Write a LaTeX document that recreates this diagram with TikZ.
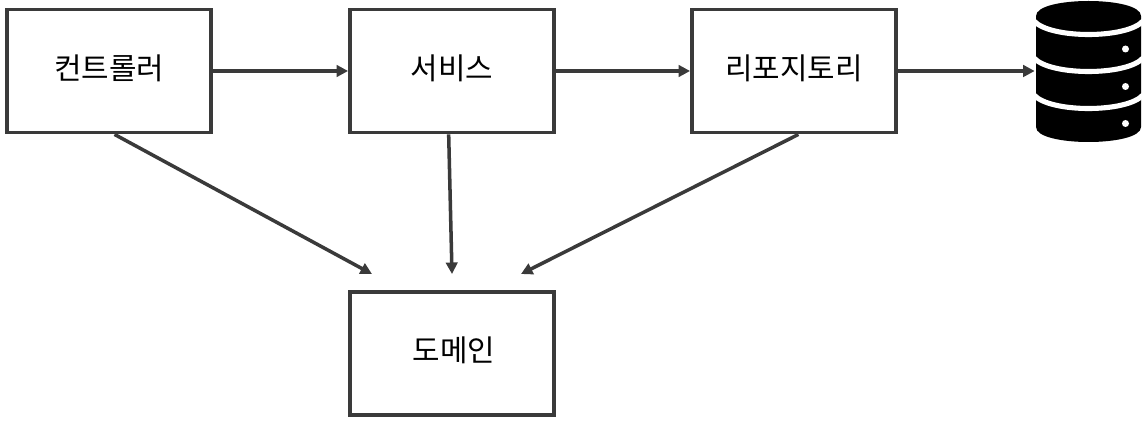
\documentclass[tikz,border=0pt]{standalone}
\usepackage{fontspec}
\setmainfont{Noto Sans CJK KR}
\usetikzlibrary{arrows.meta,positioning}
\definecolor{cA}{HTML}{3a3a3a}
\tikzset{
  layer/.style={rectangle,draw=cA,line width=2.2pt,fill=white,minimum width=4.08cm,
                minimum height=2.46cm,inner sep=0pt,text height=14pt,text depth=4.5pt,
                font=\fontsize{17}{20}\selectfont},
  flow/.style={-{Triangle[length=2.3mm,width=2.3mm]},line width=2pt,cA},
  dbband/.style={white,line width=2.9pt},
  dbdot/.style={circle,fill=white,inner sep=0pt,minimum size=.14cm},
}
\begin{document}
\begin{tikzpicture}[x=.02cm,y=-.02cm]
  \useasboundingbox (0,0) rectangle (1146,422);
  \node[layer](ctrl) at (109,71){컨트롤러};
  \node[layer](svc) at (452,71){서비스};
  \node[layer](repo) at (794,71){리포지토리};
  \node[layer](domain) at (452,353.5){\hspace{.08cm}도메인};
  \node[inner sep=0pt,minimum width=2.14cm,minimum height=2.82cm](db) at (1088.5,71){};
  % database icon
  \fill[black] (1036,16) .. controls (1036,-4) and (1141,-4) .. (1141,16)
    -- (1141,127) .. controls (1141,147) and (1036,147) .. (1036,127) -- cycle;
  \foreach \y in {21,58,95}{
    \draw[dbband] (1034,\y) .. controls (1050,{\y+18}) and (1127,{\y+18}) .. (1143,\y);}
  \foreach \y in {49,86.5,123.5}{\node[dbdot](d\y) at (1125.5,\y){};}
  % arrows
  \coordinate (inL) at (372,274);
  \coordinate (inM) at (452,274);
  \coordinate (inR) at (521,274);
  \draw[flow] (ctrl) -- (svc);
  \draw[flow] (svc) -- (repo);
  \draw[flow] (repo) -- (db);
  \draw[flow] (ctrl.-85) -- (inL);
  \draw[flow] (svc.-93) -- (inM);
  \draw[flow] (repo.-86) -- (inR);
\end{tikzpicture}
\end{document}
